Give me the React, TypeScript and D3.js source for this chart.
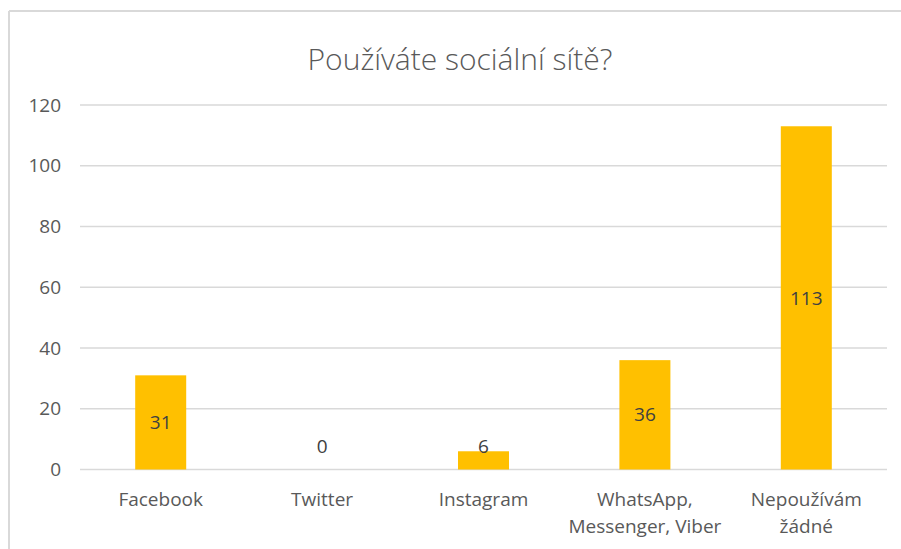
import React from "react";
import * as d3 from "d3";

const categories: string[][] = [
  ["Facebook"],
  ["Twitter"],
  ["Instagram"],
  ["WhatsApp,", "Messenger, Viber"],
  ["Nepoužívám", "žádné"],
];
const values: number[] = [31, 0, 6, 36, 113];
const yTicks: number[] = [0, 20, 40, 60, 80, 100, 120];
const title = "Používáte sociální sítě?";

const W = 901;
const H = 549;
const FONT = "'Open Sans', 'Noto Sans', sans-serif";

export default function App() {
  const plotLeft = 80;
  const plotRight = 887;
  const plotTop = 105;
  const plotBottom = 469.5;

  const x = d3
    .scaleBand<number>()
    .domain(values.map((_, i) => i))
    .range([plotLeft, plotRight])
    .paddingInner(0.684)
    .paddingOuter(0.342);
  const y = d3.scaleLinear().domain([0, 120]).range([plotBottom, plotTop]);

  return (
    <svg
      width={W}
      height={H}
      style={{ position: "absolute", left: 0, top: 0, background: "#fff" }}
      fontFamily={FONT}
    >
      <rect x={0} y={0} width={W} height={H} fill="#fff" />
      {/* chart border */}
      <line x1={9} x2={W} y1={11} y2={11} stroke="#d9d9d9" strokeWidth={2} />
      <line x1={9} x2={9} y1={11} y2={H} stroke="#d9d9d9" strokeWidth={2} />

      <text
        x={460}
        y={70}
        textAnchor="middle"
        fontSize={30}
        fill="#595959"
        fontWeight={300}
      >
        {title}
      </text>

      {yTicks.map((t) => (
        <g key={t}>
          <line
            x1={plotLeft}
            x2={plotRight}
            y1={y(t)}
            y2={y(t)}
            stroke="#d9d9d9"
            strokeWidth={1.5}
          />
          <text
            x={61}
            y={y(t)}
            dy="0.35em"
            textAnchor="end"
            fontSize={19}
            fill="#595959"
          >
            {t}
          </text>
        </g>
      ))}

      {values.map((v, i) => {
        const x0 = x(i)!;
        const bw = x.bandwidth();
        const top = y(v);
        const mid = (top + y(0)) / 2;
        const ly = Math.min(mid, y(0) - 23);
        return (
          <g key={i}>
            <rect x={x0} y={top} width={bw} height={y(0) - top} fill="#ffc000" />
            <text
              x={x0 + bw / 2}
              y={ly}
              dy="0.35em"
              textAnchor="middle"
              fontSize={19}
              fill="#404040"
            >
              {v}
            </text>
            {categories[i].map((line, j) => (
              <text
                key={j}
                x={x0 + bw / 2}
                y={499 + j * 27}
                dy="0.35em"
                textAnchor="middle"
                fontSize={19}
                fill="#595959"
              >
                {line}
              </text>
            ))}
          </g>
        );
      })}
    </svg>
  );
}
